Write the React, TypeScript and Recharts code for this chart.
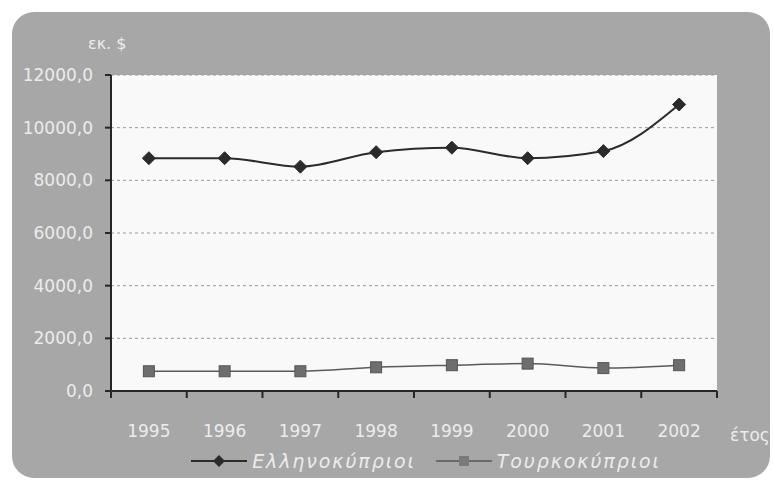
import React from 'react';
import { LineChart, Line, XAxis, YAxis, CartesianGrid, Legend } from 'recharts';

const years = ['1995', '1996', '1997', '1998', '1999', '2000', '2001', '2002'];
const greekCypriots = [8840, 8840, 8520, 9070, 9240, 8840, 9110, 10880];
const turkishCypriots = [750, 750, 750, 900, 980, 1040, 870, 980];
const yTicks = [0, 2000, 4000, 6000, 8000, 10000, 12000];
const seriesNames = ['Ελληνοκύπριοι', 'Τουρκοκύπριοι'];
const yUnit = 'εκ. $';
const xUnit = 'έτος';

const data = years.map((y, i) => ({ year: y, greek: greekCypriots[i], turkish: turkishCypriots[i], edge: i }));
const edgeTicks = Array.from({ length: years.length + 1 }, (_, i) => i);

const FONT = '"DejaVu Sans", sans-serif';
const TEXT = '#ececec';
const AXIS = '#262626';

const Diamond = (props: any) => {
  const { cx, cy } = props;
  if (cx == null || cy == null) return <g />;
  const r = 6.5;
  return <path d={`M${cx},${cy - r}L${cx + r},${cy}L${cx},${cy + r}L${cx - r},${cy}Z`} fill="#2b2b2b" stroke="#2b2b2b" strokeWidth={1} />;
};

const Square = (props: any) => {
  const { cx, cy } = props;
  if (cx == null || cy == null) return <g />;
  const s = 5.5;
  return <rect x={cx - s} y={cy - s} width={2 * s} height={2 * s} fill="#6e6e6e" stroke="#555" strokeWidth={1} />;
};

const EdgeTick = (props: any) => {
  const { x, y } = props;
  return <line x1={x} y1={y} x2={x} y2={y + 7} stroke={AXIS} strokeWidth={2} />;
};

const YTick = (props: any) => {
  const { x, y, payload } = props;
  return (
    <g>
      <line x1={x - 6} y1={y} x2={x} y2={y} stroke={AXIS} strokeWidth={2} />
      <text x={x - 18} y={y} dy="0.36em" textAnchor="end" fill={TEXT} fontSize={17} fontFamily={FONT}>
        {Number(payload.value).toFixed(1).replace('.', ',')}
      </text>
    </g>
  );
};

const LegendContent = (props: any) => {
  const { payload } = props;
  return (
    <div style={{ display: 'flex', justifyContent: 'center', alignItems: 'center', gap: 20, fontFamily: FONT, paddingLeft: 135 }}>
      {(payload || []).map((p: any, i: number) => (
        <div key={i} style={{ display: 'flex', alignItems: 'center' }}>
          <svg width={56} height={16}>
            <line x1={0} y1={8} x2={56} y2={8} stroke={i === 0 ? '#2b2b2b' : '#6a6a6a'} strokeWidth={2} />
            {i === 0 ? (
              <path d="M28,2L34,8L28,14L22,8Z" fill="#2b2b2b" />
            ) : (
              <rect x={23} y={3} width={10} height={10} fill="#7a7a7a" />
            )}
          </svg>
          <span style={{ color: TEXT, fontStyle: 'italic', fontSize: 19, marginLeft: 5, letterSpacing: 1.9 }}>{p.value}</span>
        </div>
      ))}
    </div>
  );
};

export default function App() {
  return (
    <div style={{ position: 'absolute', left: 0, top: 0, width: 773, height: 482, background: '#ffffff', overflow: 'hidden' }}>
      <div style={{ position: 'absolute', left: 12, top: 12, width: 758, height: 466, background: '#a7a7a7', borderRadius: 22 }} />
      <div style={{ position: 'absolute', left: 0, top: 0 }}>
        <LineChart width={773} height={482} data={data} margin={{ top: 75, right: 56, left: 0, bottom: 6 }}>
          <CartesianGrid vertical={false} stroke="#9a9a9a" strokeDasharray="3 3" fill="#f9f9f9" />
          <XAxis
            xAxisId="z_cat"
            dataKey="year"
            scale="band"
            height={51}
            axisLine={false}
            tickLine={false}
            tickSize={0}
            tickMargin={26}
            tick={{ fill: TEXT, fontSize: 17, fontFamily: FONT }}
          />
          <XAxis
            xAxisId="a_edge"
            dataKey="edge"
            type="number"
            domain={[0, years.length]}
            ticks={edgeTicks}
            allowDataOverflow
            height={8}
            tick={<EdgeTick />}
            tickLine={false}
            tickSize={0}
            tickMargin={0}
            axisLine={{ stroke: AXIS, strokeWidth: 2 }}
          />
          <YAxis
            width={111}
            domain={[0, 12000]}
            ticks={yTicks}
            tick={<YTick />}
            tickLine={false}
            tickSize={0}
            tickMargin={0}
            axisLine={{ stroke: AXIS, strokeWidth: 2 }}
          />
          <Legend verticalAlign="bottom" height={26} content={<LegendContent />} />
          <Line
            xAxisId="z_cat"
            name={seriesNames[0]}
            dataKey="greek"
            type="monotone"
            stroke="#2b2b2b"
            strokeWidth={2}
            dot={<Diamond />}
            activeDot={false}
            isAnimationActive={false}
          />
          <Line
            xAxisId="z_cat"
            name={seriesNames[1]}
            dataKey="turkish"
            type="monotone"
            stroke="#5a5a5a"
            strokeWidth={1.5}
            dot={<Square />}
            activeDot={false}
            isAnimationActive={false}
          />
          <text x={88} y={49} fill={TEXT} fontSize={16} fontFamily={FONT}>{yUnit}</text>
          <text x={730} y={441} fill={TEXT} fontSize={17} fontFamily={FONT}>{xUnit}</text>
        </LineChart>
      </div>
    </div>
  );
}
